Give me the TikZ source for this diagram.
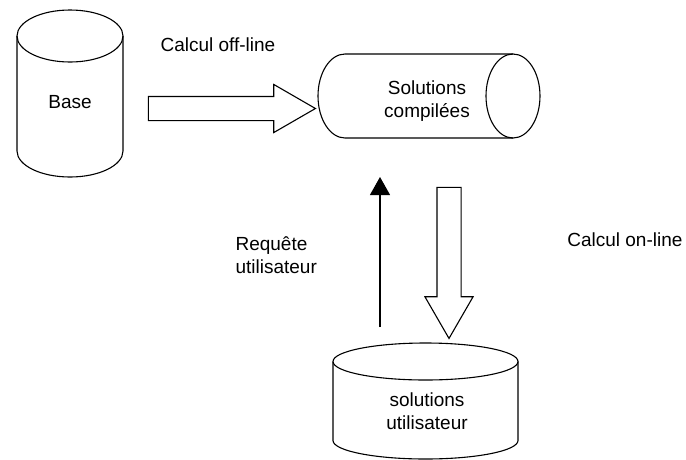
\documentclass[tikz,border=0pt]{standalone}
\usepackage{fontspec}
\setmainfont{Liberation Sans}
\usetikzlibrary{shapes.arrows,arrows.meta}

\begin{document}
\begin{tikzpicture}[x=1pt,y=-1pt,
          every node/.style={font=\fontsize{19}{23}\selectfont},
          drum/.style={draw,line width=1.1pt},
          label/.style={align=center,inner sep=0pt},
          bigarrow/.style={single arrow,draw,line width=1.1pt,
            inner xsep=0pt,inner ysep=11.5pt,single arrow head extend=12pt,
            single arrow tip angle=60},
          thin/.style={line width=1.1pt,-{Triangle[length=18pt,width=20pt]}}]
          \useasboundingbox (0,0) rectangle (686,459);
          % Base
          \draw[drum] (17,36) -- (17,151)
            arc[start angle=180,end angle=0,x radius=53,y radius=26] -- (123,36);
          \draw[drum] (70,36) ellipse[x radius=53,y radius=26];
          \node[label] (base) at (70,102) {Base};
          % solutions compilees
          \draw[drum] (513,54) -- (345,54)
            arc[start angle=270,end angle=90,x radius=27,y radius=42] -- (513,138);
          \draw[drum] (513,96) ellipse[x radius=27,y radius=42];
          \node[label] (comp) at (427,101) {Solutions\\compilées};
          % solutions utilisateur
          \draw[drum] (333,361.5) -- (333,440.5)
            arc[start angle=180,end angle=0,x radius=92.5,y radius=18.5] -- (518,361.5);
          \draw[drum] (425.5,361.5) ellipse[x radius=92.5,y radius=18.5];
          \node[label] (usr) at (427,411) {solutions\\utilisateur};
          % fleches epaisses
          \node[bigarrow,minimum height=167pt] (off) at (221.5,108.5) {};
          \node[bigarrow,minimum height=151pt,rotate=-90] (on) at (449,252.5) {};
          % requete
          \coordinate (reqA) at (380,327);
          \coordinate (reqB) at (380,177);
          \draw[thin] (reqA) -- (reqB);
          % etiquettes
          \node[anchor=west] (loff) at (157,45) {Calcul off-line};
          \node[anchor=east] (lon) at (686,240) {Calcul on-line};
          \node[anchor=west,align=left] (lreq) at (232,255) {Requête\\utilisateur};
        \end{tikzpicture}
\end{document}
